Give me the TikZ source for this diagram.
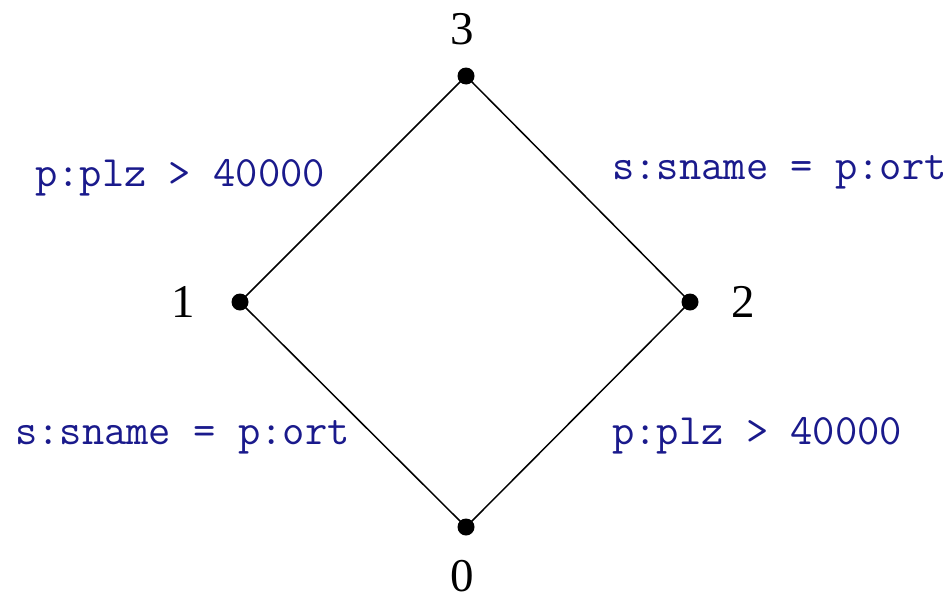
\documentclass[tikz,border=0pt]{standalone}
\usepackage{fontspec}
\setmainfont{Liberation Serif}
\definecolor{labblue}{RGB}{26,26,140}
\begin{document}
\begin{tikzpicture}[x=1pt,y=-1pt,
  vert/.style={circle,fill=black,inner sep=0pt,minimum size=17pt},
  num/.style={font=\fontsize{47}{47}\selectfont,inner sep=0pt},
  lab/.style={font=\ttfamily\fontsize{43.3}{43}\selectfont,text=labblue,inner sep=0pt,anchor=base west},
  edge/.style={line width=1.5pt}]
\useasboundingbox (0,0) rectangle (952,597);
\node[vert] (v3) at (466,76) {};
\node[vert] (v1) at (240,302) {};
\node[vert] (v2) at (690,302) {};
\node[vert] (v0) at (466,527) {};
\draw[edge] (v3.center) -- (v1.center) -- (v0.center) -- (v2.center) -- (v3.center);
\node[num] (n3) at (462,29) {3};
\node[num] (n1) at (183,302) {1};
\node[num] (n2) at (743,302) {2};
\node[num,anchor=base] (n0) at (462,591) {0};
\node[lab] (l1) at (35,186) {p:plz > 40000};
\node[lab] (l2) at (612,179) {s:sname = p:ort};
\node[lab] (l3) at (15,444) {s:sname = p:ort};
\node[lab] (l4) at (612,444) {p:plz > 40000};
\end{tikzpicture}
\end{document}
